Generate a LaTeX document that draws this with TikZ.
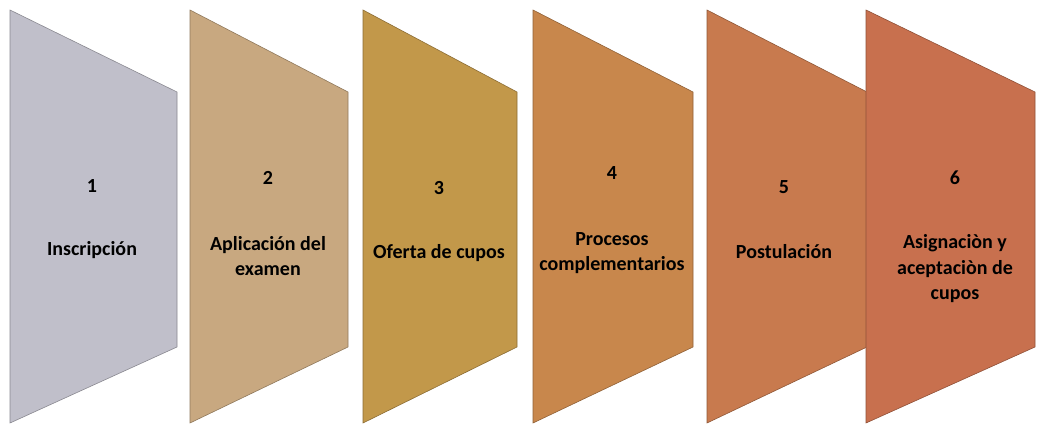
\documentclass[tikz,border=0pt]{standalone}
\usepackage{fontspec}
\setmainfont{Carlito}
\definecolor{cA}{RGB}{192,191,202}
\definecolor{cB}{RGB}{200,168,128}
\definecolor{cC}{RGB}{194,152,74}
\definecolor{cD}{RGB}{200,135,76}
\definecolor{cE}{RGB}{200,122,78}
\definecolor{cF}{RGB}{200,112,78}
\newcommand\stagebox[4]{%
  \pgfdeclarehorizontalshading{sh#4}{100bp}{color(0bp)=(#3!60!white); color(8bp)=(#3); color(90bp)=(#3); color(100bp)=(#3!75!black)}%
  \path[shading=sh#4] (#1,10) -- (#2,92) -- (#2,347) -- (#1,423) -- cycle;
  \draw[#3!72!black, line width=0.6pt, line join=miter] (#1,10) -- (#2,92) -- (#2,347) -- (#1,423) -- cycle;
}
\tikzset{
  num/.style={font=\bfseries\fontsize{20}{24}\selectfont, text=black, inner sep=0pt},
  lbl/.style={font=\bfseries\fontsize{20}{25.5}\selectfont, text=black, align=center, inner sep=0pt},
}
\begin{document}
\begin{tikzpicture}[x=1pt,y=-1pt]
\path[use as bounding box, fill=white] (0,0) rectangle (1037,427);
\stagebox{10}{177}{cA}{a}
\stagebox{190}{348}{cB}{b}
\stagebox{363}{517}{cC}{c}
\stagebox{533}{693}{cD}{d}
\stagebox{707}{867}{cE}{e}
\stagebox{866}{1035}{cF}{f}

\node[num] (n1) at (92,186) {1};
\node[lbl] (t1) at (92,250) {Inscripción};
\node[num] (n2) at (268,178) {2};
\node[lbl] (t2) at (268,256) {Aplicación del\\examen};
\node[num] (n3) at (439,188) {3};
\node[lbl] (t3) at (439,253) {Oferta de cupos};
\node[num] (n4) at (612,173) {4};
\node[lbl] (t4) at (612,253) {Procesos\\complementarios};
\node[num] (n5) at (784,187) {5};
\node[lbl] (t5) at (784,252) {Postulación};
\node[num] (n6) at (955,178) {6};
\node[lbl] (t6) at (955,269) {Asignaciòn y\\aceptaciòn de\\cupos};
\end{tikzpicture}
\end{document}
